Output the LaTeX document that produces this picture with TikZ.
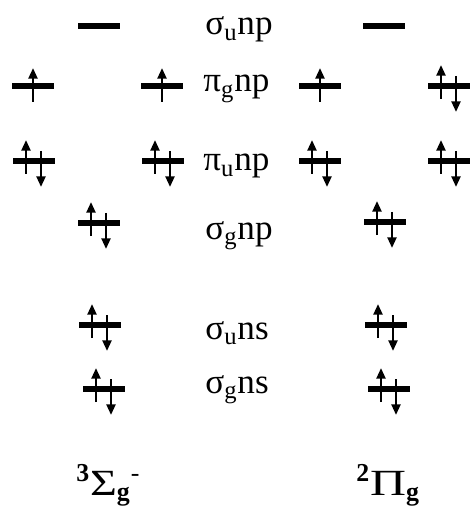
\documentclass[tikz,border=0pt]{standalone}
\usepackage{fontspec}
\setmainfont{Liberation Serif}
\usetikzlibrary{arrows.meta}

\tikzset{
  lvl/.style={line width=3.2pt},
  spin/.style={line width=1.4pt,-{Triangle[length=6pt,width=5pt]}},
  lbl/.style={anchor=base west,inner sep=0pt,font=\fontsize{20}{24}\selectfont},
  term/.style={anchor=base west,inner sep=0pt,font=\fontsize{21}{24}\selectfont}
}

% one orbital level, with 0, 1 or 2 electrons
\newcommand{\emptylvl}[2]{%
  \begin{scope}[shift={(#1,#2)}]
    \draw[lvl] (-21,0) -- (21,0);
  \end{scope}}
\newcommand{\singlelvl}[2]{%
  \begin{scope}[shift={(#1,#2)}]
    \draw[lvl] (-21,0) -- (21,0);
    \draw[spin] (0,16) -- (0,-18);
  \end{scope}}
\newcommand{\pairlvl}[2]{%
  \begin{scope}[shift={(#1,#2)}]
    \draw[lvl] (-21,0) -- (21,0);
    \draw[spin] (-8,13) -- (-8,-21);
    \draw[spin] (7,-10) -- (7,26);
  \end{scope}}

\begin{document}
\begin{tikzpicture}[x=0.2mm,y=-0.2mm,line cap=butt]
  \useasboundingbox (0,0) rectangle (471,512);
  % left column: 3Sigma_g^-
  \emptylvl{99}{26}
  \singlelvl{33}{86}
  \singlelvl{162}{86}
  \pairlvl{34}{161}
  \pairlvl{163}{161}
  \pairlvl{99}{223}
  \pairlvl{100}{325}
  \pairlvl{104}{389}
  % right column: 2Pi_g
  \emptylvl{384}{26}
  \singlelvl{320}{86}
  \pairlvl{449}{86}
  \pairlvl{320}{161}
  \pairlvl{449}{161}
  \pairlvl{385}{222}
  \pairlvl{386}{325}
  \pairlvl{389}{389}
  % orbital names
  \node[lbl] (sunp) at (205,35) {σ\textsubscript{u}np};
  \node[lbl] (pgnp) at (203,92) {π\textsubscript{g}np};
  \node[lbl] (punp) at (203,171) {π\textsubscript{u}np};
  \node[lbl] (sgnp) at (205,239) {σ\textsubscript{g}np};
  \node[lbl] (suns) at (205,339) {σ\textsubscript{u}ns};
  \node[lbl] (sgns) at (205,393) {σ\textsubscript{g}ns};
  % states
  \node[term] (sigterm) at (76,495) {\textbf{\textsuperscript{3}}\scalebox{1.25}[1]{Σ}\textbf{\textsubscript{g}}\textsuperscript{-}};
  \node[term] (piterm) at (356,495) {\textbf{\textsuperscript{2}}\scalebox{1.35}[1]{Π}\textbf{\textsubscript{g}}};
\end{tikzpicture}
\end{document}
